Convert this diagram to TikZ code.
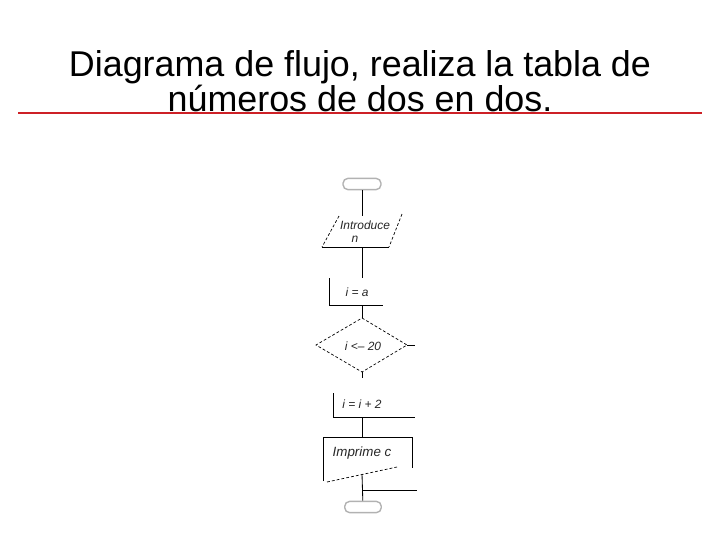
\documentclass[tikz,border=0pt]{standalone}
\usepackage{fontspec}
\setmainfont{Liberation Sans}
\definecolor{rojo}{RGB}{205,32,38}
\begin{document}
\begin{tikzpicture}[x=0.025cm,y=-0.025cm,
        titulo/.style={font=\fontsize{25.5}{30}\selectfont, anchor=base, inner sep=0},
        texto/.style={font=\fontsize{8.5}{10}\selectfont\itshape, text=black!85, inner sep=0},
        terminal/.style={draw=gray!60, line width=1pt, rounded corners=3.5pt, minimum width=27pt, minimum height=8pt, inner sep=0},
        linea/.style={line width=0.6pt},
        punteada/.style={line width=0.5pt, dash pattern=on 2pt off 1.5pt}]
    \useasboundingbox (0,0) rectangle (720,540);
    \draw[rojo, line width=2pt] (18,113) -- (702,113);
    \node[titulo] (titulo1) at (360,76.7) {Diagrama de flujo, realiza la tabla de};
    \node[titulo] (titulo2) at (360,111.7) {números de dos en dos.};

    % terminales
    \node[terminal] (inicio) at (362,184) {};
    \node[terminal, minimum width=26pt] (fin) at (363,507) {};

    % entrada
    \node[texto] (leer) at (365,225) {Introduce};
    \node[texto] (leerVar) at (355,239) {n};
    \coordinate (leerN) at (362,216);
    \coordinate (leerS) at (362,247);
    \draw[punteada] (339,216) -- (322,247);
    \draw[punteada] (402,214) -- (389,247);
    \draw[linea] (322,247) -- (389,247);

    % asignacion
    \node[texto] (asigna) at (357,292) {i = a};
    \coordinate (asignaN) at (362,278);
    \coordinate (asignaS) at (362,305);
    \draw[linea] (329,278) -- (329,305) -- (383,305);

    % condicion
    \node[texto] (condicion) at (363,346) {i <– 20};
    \coordinate (condN) at (362,318);
    \coordinate (condS) at (362,372);
    \coordinate (condE) at (407,345);
    \coordinate (condO) at (316,345);
    \coordinate (salida) at (415,345);
    \coordinate (condAbajo) at (362,378);
    \draw[punteada] (condN) -- (condE) -- (condS) -- (condO) -- cycle;

    % incremento
    \node[texto] (incremento) at (362,404) {i = i + 2};
    \coordinate (incN) at (362,393);
    \coordinate (incS) at (362,417);
    \draw[linea] (333,393) -- (333,417) -- (415,417);

    % salida de datos
    \node[texto, font=\fontsize{9.5}{11}\selectfont\itshape] (imprime) at (362,453) {Imprime c};
    \coordinate (impN) at (362,437);
    \coordinate (impS) at (362,474);
    \coordinate (union) at (362,490);
    \coordinate (regreso) at (417,490);
    \draw[linea] (323,481) -- (323,437) -- (412,437) -- (412,468);
    \draw[punteada] (327,482) -- (397,467);

    \draw[linea] (inicio) -- (leerN);
    \draw[linea] (leerS) -- (asignaN);
    \draw[linea] (asignaS) -- (condN);
    \draw[linea] (condE) -- (salida);
    \draw[linea] (condS) -- (condAbajo);
    \draw[linea] (incS) -- (impN);
    \draw[linea] (impS) -- (fin);
    \draw[linea] (union) -- (regreso);
\end{tikzpicture}
\end{document}
